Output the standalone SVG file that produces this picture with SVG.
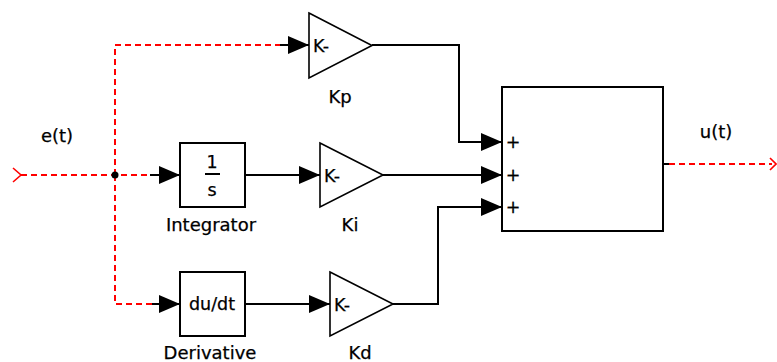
<svg xmlns="http://www.w3.org/2000/svg" width="777" height="362" viewBox="0 0 777 362">
<style>
.bg{fill:#fff}
.blk{fill:#fff;stroke:#000;stroke-width:2}
.tri{fill:#fff;stroke:#000;stroke-width:1.6}
.w{fill:none;stroke:#000;stroke-width:2}
.r{fill:none;stroke:#f00;stroke-width:2;stroke-dasharray:6,4}
.rc{fill:none;stroke:#f00;stroke-width:1.6}
text{font-family:"DejaVu Sans","Liberation Sans",sans-serif;fill:#000;stroke:#000;stroke-width:0.25}
.lbl{font-size:18px;text-anchor:middle}
.in{font-size:17.5px}
.c{text-anchor:middle}
</style>
<defs>
<marker id="ah" viewBox="0 0 21 18" refX="21" refY="9" markerWidth="21" markerHeight="18" markerUnits="userSpaceOnUse" orient="auto">
<path d="M0,0 L21,9 L0,18 Z" fill="#000" stroke="none"/>
</marker>
</defs>
<rect class="bg" x="0" y="0" width="777" height="362"/>
<g id="connectors">
<path class="rc" d="M13,168 L21,175 L13,182"/>
<path class="r" d="M21,175 H156"/>
<path class="w" d="M150,175 H180" marker-end="url(#ah)"/>
<path class="r" d="M115,175 V45 H282"/>
<path class="w" d="M280,45 H309" marker-end="url(#ah)"/>
<path class="r" d="M115,175 V304 H156"/>
<path class="w" d="M152,304 H180" marker-end="url(#ah)"/>
<circle cx="115" cy="175" r="3.5" fill="#000"/>
<path class="w" d="M245,175 H320" marker-end="url(#ah)"/>
<path class="w" d="M245,304 H330" marker-end="url(#ah)"/>
<path class="w" d="M372,45 H459 V142 H502" marker-end="url(#ah)"/>
<path class="w" d="M383,175 H502" marker-end="url(#ah)"/>
<path class="w" d="M393,304 H438 V207 H502" marker-end="url(#ah)"/>
<path class="w" d="M663,164 H669"/>
<path class="r" d="M669,164 H772"/>
<path class="rc" d="M770,158 L776,164 L770,170"/>
</g>
<g id="in-label"><text class="lbl" x="57" y="142">e(t)</text></g>
<g id="out-label"><text class="lbl" x="716" y="138">u(t)</text></g>
<g id="Kp">
<polygon class="tri" points="309,13 372,45.5 309,78"/>
<text class="in" x="313" y="52">K-</text>
<text class="lbl" x="340" y="103">Kp</text>
</g>
<g id="Integrator">
<rect class="blk" x="180" y="143" width="65" height="64"/>
<text class="in c" x="212" y="168">1</text>
<path class="w" d="M205,174 H220" stroke-width="1.5"/>
<text class="in c" x="212" y="196">s</text>
<text class="lbl" x="211" y="231">Integrator</text>
</g>
<g id="Ki">
<polygon class="tri" points="320,143 383,175 320,207"/>
<text class="in" x="324" y="182">K-</text>
<text class="lbl" x="350" y="231">Ki</text>
</g>
<g id="Derivative">
<rect class="blk" x="180" y="272" width="65" height="64"/>
<text class="in c" x="212" y="310">du/dt</text>
<text class="lbl" x="210" y="359">Derivative</text>
</g>
<g id="Kd">
<polygon class="tri" points="330,272 393,304 330,336"/>
<text class="in" x="334" y="311">K-</text>
<text class="lbl" x="360" y="359">Kd</text>
</g>
<g id="Sum">
<rect class="blk" x="502" y="87" width="161" height="144"/>
<text class="in c" x="513" y="148">+</text>
<text class="in c" x="513" y="181">+</text>
<text class="in c" x="513" y="213">+</text>
</g>
</svg>
